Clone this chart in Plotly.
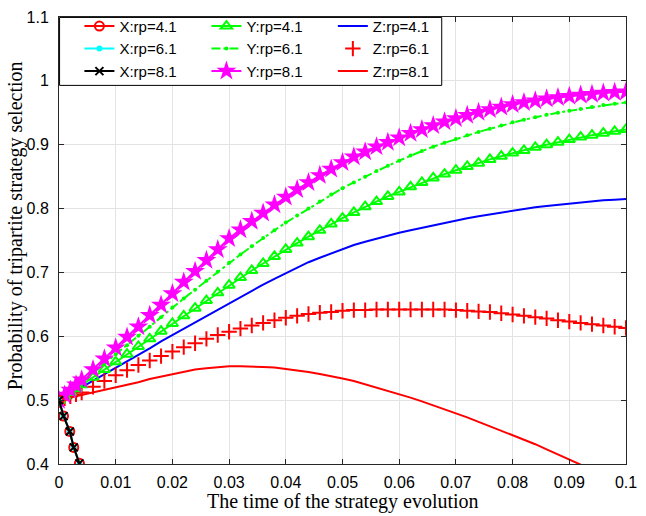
import plotly.graph_objects as go

# time points for the Y / Z curves
t = [0, 0.001, 0.002, 0.003, 0.004, 0.006, 0.008, 0.010, 0.012, 0.014, 0.016, 0.018, 0.020,
     0.022, 0.024, 0.026, 0.028, 0.030, 0.032, 0.034, 0.036, 0.038, 0.040, 0.042, 0.044,
     0.046, 0.048, 0.050, 0.052, 0.054, 0.056, 0.058, 0.060, 0.062, 0.064, 0.066, 0.068,
     0.070, 0.072, 0.074, 0.076, 0.078, 0.080, 0.082, 0.084, 0.086, 0.088, 0.090, 0.092,
     0.094, 0.096, 0.098, 0.100]

y_41 = [0.5, 0.506, 0.512, 0.518, 0.524, 0.536, 0.548, 0.560, 0.572, 0.584, 0.596, 0.608, 0.620,
        0.632, 0.644, 0.656, 0.668, 0.680, 0.692, 0.703, 0.714, 0.725, 0.736, 0.746, 0.756,
        0.766, 0.776, 0.785, 0.794, 0.803, 0.811, 0.819, 0.826, 0.834, 0.841, 0.848, 0.854,
        0.860, 0.866, 0.871, 0.877, 0.882, 0.887, 0.891, 0.896, 0.900, 0.904, 0.908, 0.912,
        0.915, 0.918, 0.921, 0.924]
y_61 = [0.5, 0.507, 0.514, 0.521, 0.528, 0.543, 0.557, 0.572, 0.586, 0.601, 0.615, 0.630, 0.645,
        0.659, 0.673, 0.687, 0.701, 0.715, 0.728, 0.741, 0.754, 0.766, 0.778, 0.789, 0.800,
        0.811, 0.822, 0.832, 0.841, 0.850, 0.859, 0.867, 0.875, 0.883, 0.890, 0.897, 0.903,
        0.909, 0.915, 0.920, 0.925, 0.930, 0.935, 0.939, 0.943, 0.947, 0.950, 0.953, 0.956,
        0.959, 0.962, 0.964, 0.966]
y_81 = [0.5, 0.508, 0.516, 0.524, 0.532, 0.548, 0.565, 0.582, 0.599, 0.615, 0.633, 0.649, 0.667,
        0.685, 0.702, 0.719, 0.736, 0.753, 0.767, 0.780, 0.793, 0.806, 0.818, 0.830, 0.841,
        0.852, 0.862, 0.872, 0.881, 0.889, 0.897, 0.904, 0.911, 0.918, 0.924, 0.930, 0.936,
        0.941, 0.946, 0.951, 0.955, 0.959, 0.963, 0.966, 0.969, 0.972, 0.974, 0.976, 0.978,
        0.979, 0.981, 0.982, 0.983]

z_41 = [0.5, 0.505, 0.510, 0.515, 0.520, 0.530, 0.540, 0.550, 0.561, 0.571, 0.581, 0.592, 0.602,
        0.612, 0.622, 0.632, 0.642, 0.652, 0.662, 0.672, 0.681, 0.690, 0.699, 0.708, 0.716,
        0.723, 0.730, 0.737, 0.743, 0.748, 0.753, 0.758, 0.762, 0.766, 0.770, 0.774, 0.778,
        0.781, 0.785, 0.788, 0.791, 0.794, 0.797, 0.799, 0.802, 0.804, 0.806, 0.808, 0.810,
        0.811, 0.813, 0.814, 0.815]
z_61 = [0.5, 0.503, 0.506, 0.509, 0.512, 0.521, 0.530, 0.539, 0.547, 0.555, 0.562, 0.569, 0.576,
        0.583, 0.589, 0.596, 0.602, 0.607, 0.612, 0.617, 0.621, 0.625, 0.629, 0.632, 0.635,
        0.637, 0.638, 0.640, 0.641, 0.641, 0.642, 0.642, 0.642, 0.642, 0.642, 0.642, 0.642,
        0.641, 0.640, 0.639, 0.638, 0.636, 0.634, 0.632, 0.630, 0.628, 0.625, 0.623, 0.621,
        0.619, 0.617, 0.615, 0.613]
z_81 = [0.5, 0.502, 0.504, 0.505, 0.507, 0.511, 0.515, 0.519, 0.524, 0.528, 0.533, 0.537, 0.541,
        0.545, 0.548, 0.550, 0.552, 0.553, 0.553, 0.553, 0.552, 0.551, 0.549, 0.547, 0.544,
        0.541, 0.538, 0.534, 0.530, 0.525, 0.520, 0.515, 0.510, 0.504, 0.498, 0.492, 0.486,
        0.480, 0.473, 0.466, 0.459, 0.452, 0.446, 0.439, 0.431, 0.423, 0.415, 0.407, 0.399,
        0.391, 0.383, 0.375, 0.367]

# X drops out of the visible range almost immediately
t_x = [0, 0.0008, 0.0019, 0.0026, 0.0036, 0.0045]
x_41 = [0.5, 0.475, 0.451, 0.426, 0.401, 0.378]
x_61 = [0.5, 0.475, 0.451, 0.426, 0.401, 0.378]
x_81 = [0.5, 0.475, 0.451, 0.426, 0.401, 0.378]

RED, GREEN, BLUE = '#FF0000', '#00FF00', '#0000FF'
CYAN, MAGENTA = '#00FFFF', '#FF00FF'

fig = go.Figure()

# Z column (legend3)
fig.add_trace(go.Scatter(x=t, y=z_41, name='Z:rp=4.1', mode='lines',
                         line=dict(color=BLUE, width=2), legend='legend3'))
fig.add_trace(go.Scatter(x=t, y=z_61, name='Z:rp=6.1', mode='markers',
                         marker=dict(symbol='cross-thin-open', size=11, color=RED,
                                     line=dict(color=RED, width=2)),
                         legend='legend3'))
fig.add_trace(go.Scatter(x=t, y=z_81, name='Z:rp=8.1', mode='lines',
                         line=dict(color=RED, width=2), legend='legend3'))

# Y column (legend2)
fig.add_trace(go.Scatter(x=t, y=y_41, name='Y:rp=4.1', mode='lines+markers',
                         line=dict(color=GREEN, width=2),
                         marker=dict(symbol='triangle-up-open', size=10, color=GREEN,
                                     line=dict(color=GREEN, width=2)),
                         legend='legend2'))
fig.add_trace(go.Scatter(x=t, y=y_61, name='Y:rp=6.1', mode='lines+markers',
                         line=dict(color=GREEN, width=2, dash='dashdot'),
                         marker=dict(symbol='circle', size=4, color=GREEN),
                         legend='legend2'))
fig.add_trace(go.Scatter(x=t, y=y_81, name='Y:rp=8.1', mode='lines+markers',
                         line=dict(color=MAGENTA, width=2),
                         marker=dict(symbol='star', size=15, color=MAGENTA),
                         legend='legend2'))

# X column (legend)
fig.add_trace(go.Scatter(x=t_x, y=x_41, name='X:rp=4.1', mode='lines+markers',
                         line=dict(color=RED, width=2),
                         marker=dict(symbol='circle-open', size=9, color=RED,
                                     line=dict(color=RED, width=2))))
fig.add_trace(go.Scatter(x=t_x, y=x_61, name='X:rp=6.1', mode='lines+markers',
                         line=dict(color=CYAN, width=2),
                         marker=dict(symbol='circle', size=6, color=CYAN)))
fig.add_trace(go.Scatter(x=t_x, y=x_81, name='X:rp=8.1', mode='lines+markers',
                         line=dict(color='#000000', width=2),
                         marker=dict(symbol='x-thin-open', size=8, color='#000000',
                                     line=dict(color='#000000', width=2))))

leg_font = dict(family='Liberation Sans, Arial', size=15, color='black')
leg_common = dict(orientation='v', yanchor='top', y=1.016, bgcolor='rgba(0,0,0,0)',
                  borderwidth=0, font=leg_font, tracegroupgap=0, itemwidth=30)
serif = dict(family='Liberation Serif, Times New Roman', size=20, color='black')

fig.update_layout(
    width=646, height=516,
    margin=dict(l=59, r=13, t=9, b=52),
    plot_bgcolor='white', paper_bgcolor='white',
    legend=dict(x=0.036, **leg_common),
    legend2=dict(x=0.260, **leg_common),
    legend3=dict(x=0.483, **leg_common),
    shapes=[dict(type='rect', xref='paper', yref='paper', x0=0.001, x1=0.675, y0=0.847, y1=0.999,
                 line=dict(color='black', width=1), fillcolor='white', layer='above')],
    annotations=[
        dict(text='The time of the strategy evolution', xref='paper', yref='paper',
             x=0.5, y=-0.1143, xanchor='center', yanchor='bottom', showarrow=False, font=serif),
        dict(text='Probability of tripartite strategy selection', xref='paper', yref='paper',
             x=-0.1015, y=0.534, xanchor='left', yanchor='middle', textangle=-90,
             showarrow=False, font=serif),
    ],
)

axis_common = dict(showline=True, linecolor='#262626', linewidth=1, mirror='ticks',
                   ticks='inside', ticklen=5, tickcolor='#262626',
                   showgrid=True, gridcolor='#e3e3e3', gridwidth=1, zeroline=False,
                   tickfont=dict(family='Liberation Sans, Arial', size=16, color='black'))

fig.update_xaxes(range=[0, 0.1], dtick=0.01, tick0=0, ticklabelstandoff=4, **axis_common)
fig.update_yaxes(range=[0.4, 1.1], dtick=0.1, tick0=0.4, ticklabelstandoff=6, **axis_common)

# the page would otherwise add the browser's default 8px body margin
fig.write_html('out.html', config={'displayModeBar': False},
               post_script="document.body.style.margin='0';")
